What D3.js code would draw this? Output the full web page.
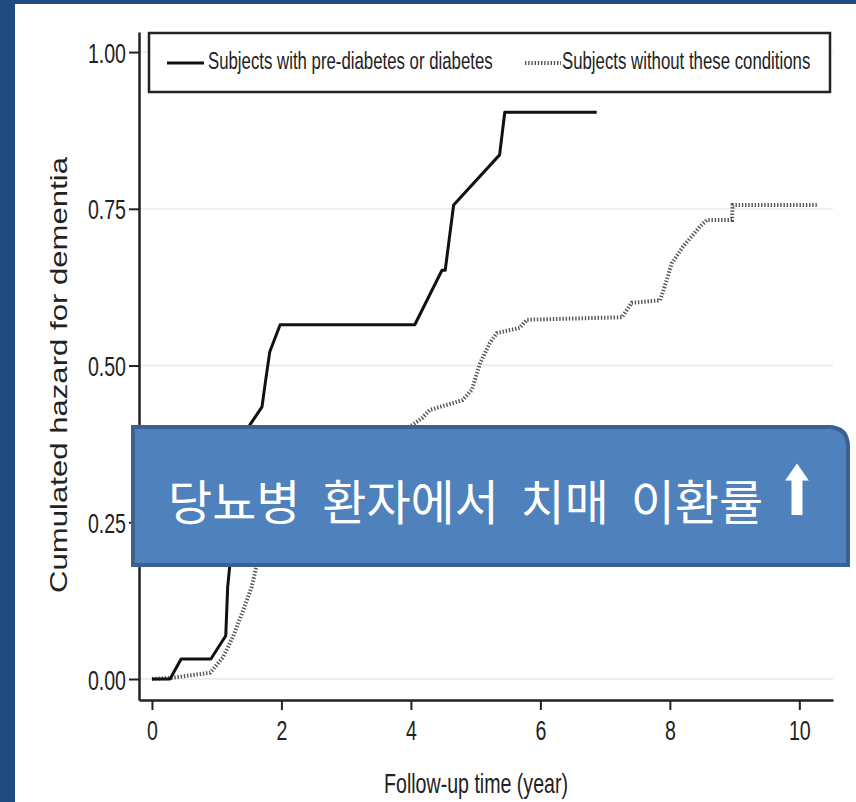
<!DOCTYPE html>
<html>
<head>
<meta charset="utf-8">
<script src="https://cdnjs.cloudflare.com/ajax/libs/d3/7.8.5/d3.min.js"></script>
<style>
	html, body { margin: 0; padding: 0; background: #fff; }
	svg { display: block; }
</style>
</head>
<body>
<svg id="chart" width="856" height="802"></svg>
<script>
// follow-up time (year) and cumulated hazard
var withTime = [0, 0.28, 0.45, 0.91, 1.14, 1.17, 1.20, 1.38, 1.51, 1.70, 1.75, 1.82, 1.98, 4.06, 4.48, 4.53, 4.66, 5.37, 5.45, 6.87];
var withHazard = [0, 0, 0.032, 0.032, 0.069, 0.147, 0.179, 0.30, 0.405, 0.434, 0.472, 0.522, 0.565, 0.565, 0.652, 0.652, 0.756, 0.836, 0.904, 0.904];

var withoutTime = [0, 0.31, 0.90, 1.10, 1.25, 1.41, 1.54, 1.62, 1.9, 2.4, 3.0, 3.6, 4.02, 4.17, 4.29, 4.80, 4.94, 5.07, 5.22, 5.33, 5.68, 5.79, 7.26, 7.41, 7.85, 7.95, 8.03, 8.20, 8.46, 8.57, 8.96, 8.97, 10.27];
var withoutHazard = [0, 0.002, 0.010, 0.035, 0.067, 0.110, 0.147, 0.182, 0.24, 0.30, 0.34, 0.38, 0.405, 0.416, 0.429, 0.445, 0.461, 0.504, 0.536, 0.552, 0.560, 0.573, 0.577, 0.600, 0.604, 0.636, 0.663, 0.689, 0.721, 0.732, 0.732, 0.756, 0.756];

var xTicks = [0, 2, 4, 6, 8, 10];
var yTicks = [0, 0.25, 0.5, 0.75, 1];
var seriesNames = ["Subjects with pre-diabetes or diabetes", "Subjects without these conditions"];
var xTitle = "Follow-up time (year)";
var yTitle = "Cumulated hazard for dementia";
var banner = "당뇨병 환자에서 치매 이환률";
var bannerArrow = "⬆";

var svg = d3.select("#chart");
var squeeze = 0.7; // the picture is squeezed sideways

// slide frame
svg.append("rect").attr("x", 0).attr("y", 0).attr("width", 856).attr("height", 4).attr("fill", "#1f4b7f");
svg.append("rect").attr("x", 0).attr("y", 0).attr("width", 15).attr("height", 802).attr("fill", "#1f4b7f");

var x = d3.scaleLinear().domain([-0.2, 10.52]).range([139, 833]);
var y = d3.scaleLinear().domain([-0.0335, 1.032]).range([700, 32]);

// grid
svg.append("g")
	.selectAll("line")
	.data(yTicks)
	.enter()
	.append("line")
	.attr("x1", x.range()[0])
	.attr("x2", x.range()[1])
	.attr("y1", function(d) { return y(d); })
	.attr("y2", function(d) { return y(d); })
	.attr("stroke", "#eeeeee")
	.attr("stroke-width", 2);

// axes
var yAxis = svg.append("g")
	.attr("transform", "translate(139,0)")
	.call(d3.axisLeft(y).tickValues(yTicks).tickFormat(d3.format(".2f")).tickSize(10).tickSizeOuter(0));
var xAxis = svg.append("g")
	.attr("transform", "translate(0,700)")
	.call(d3.axisBottom(x).tickValues(xTicks).tickFormat(d3.format("d")).tickSize(10).tickSizeOuter(0));

[xAxis, yAxis].forEach(function(g) {
	g.select(".domain").attr("stroke", "#222").attr("stroke-width", 2.5);
	g.selectAll(".tick line").attr("stroke", "#222").attr("stroke-width", 2);
	g.selectAll(".tick text")
		.attr("fill", "#222")
		.style("font-family", "'Liberation Sans', Arial, sans-serif")
		.style("font-size", "28px");
});
yAxis.selectAll(".tick text")
	.attr("x", -13 / squeeze)
	.attr("dy", "0.36em")
	.attr("transform", "scale(" + squeeze + ",1)");
xAxis.selectAll(".tick text")
	.attr("y", 40)
	.attr("dy", 0)
	.attr("transform", "scale(" + squeeze + ",1)");

// axis titles
svg.append("text")
	.attr("transform", "translate(476,793) scale(" + squeeze + ",1)")
	.attr("text-anchor", "middle")
	.style("font-family", "'Liberation Sans', Arial, sans-serif")
	.style("font-size", "28px")
	.attr("fill", "#222")
	.text(xTitle);
svg.append("text")
	.attr("transform", "translate(67,375) rotate(-90)")
	.attr("text-anchor", "middle")
	.attr("textLength", 436)
	.attr("lengthAdjust", "spacingAndGlyphs")
	.style("font-family", "'Liberation Sans', Arial, sans-serif")
	.style("font-size", "24px")
	.attr("fill", "#222")
	.text(yTitle);

// curves
var line = d3.line()
	.x(function(d) { return x(d[0]); })
	.y(function(d) { return y(d[1]); });

svg.append("path")
	.attr("d", line(d3.zip(withoutTime, withoutHazard)))
	.attr("fill", "none")
	.attr("stroke", "#555")
	.attr("stroke-width", 4)
	.attr("stroke-dasharray", "1.4 1.8");
svg.append("path")
	.attr("d", line(d3.zip(withTime, withHazard)))
	.attr("fill", "none")
	.attr("stroke", "#111")
	.attr("stroke-width", 3)
	.attr("stroke-linejoin", "round");

// legend
svg.append("rect")
	.attr("x", 149).attr("y", 33).attr("width", 681).attr("height", 59)
	.attr("fill", "#fff")
	.attr("stroke", "#222")
	.attr("stroke-width", 2.5);
svg.append("line")
	.attr("x1", 167).attr("x2", 204).attr("y1", 63).attr("y2", 63)
	.attr("stroke", "#111").attr("stroke-width", 3);
svg.append("line")
	.attr("x1", 525).attr("x2", 561).attr("y1", 63).attr("y2", 63)
	.attr("stroke", "#555").attr("stroke-width", 4).attr("stroke-dasharray", "1.4 1.8");
[[208, seriesNames[0]], [562, seriesNames[1]]].forEach(function(d) {
	svg.append("text")
		.attr("transform", "translate(" + d[0] + ",69) scale(" + squeeze + ",1)")
		.style("font-family", "'Liberation Sans', Arial, sans-serif")
		.style("font-size", "24px")
		.attr("fill", "#222")
		.text(d[1]);
});

// callout box
var bx0 = 133, by0 = 427, bx1 = 848, by1 = 565, r = 20;
svg.append("path")
	.attr("d", "M " + bx0 + " " + by0 + " L " + (bx1 - r) + " " + by0 +
		" Q " + bx1 + " " + by0 + " " + bx1 + " " + (by0 + r) +
		" L " + bx1 + " " + by1 + " L " + bx0 + " " + by1 + " Z")
	.attr("fill", "#4f81bd")
	.attr("stroke", "#3a6191")
	.attr("stroke-width", 4);
svg.append("text")
	.attr("x", 168)
	.attr("y", 520)
	.attr("fill", "#fff")
	.style("font-family", "'Noto Sans CJK KR', sans-serif")
	.style("font-size", "48px")
	.style("word-spacing", "11px")
	.text(banner);
svg.append("text")
	.attr("transform", "translate(797,515) scale(1.25,1.8)")
	.attr("text-anchor", "middle")
	.attr("fill", "#fff")
	.style("font-family", "'DejaVu Sans', sans-serif")
	.style("font-size", "38px")
	.text(bannerArrow);
</script>
</body>
</html>
